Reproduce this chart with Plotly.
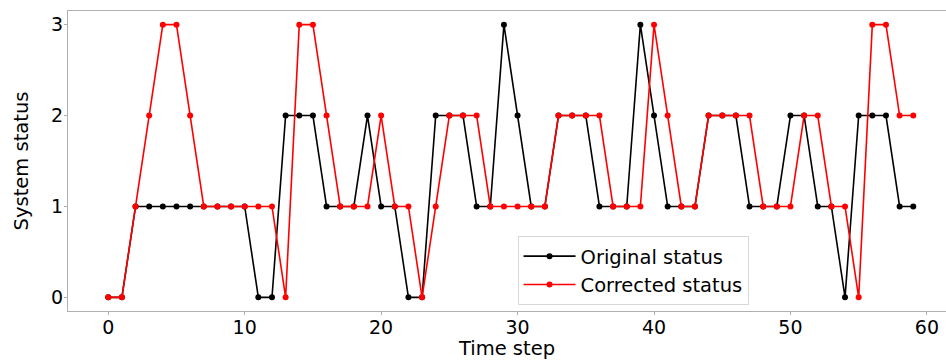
import plotly.graph_objects as go

# Time steps and the two status series
time_step = list(range(60))
original_status = [0, 0, 1, 1, 1, 1, 1, 1, 1, 1,
                   1, 0, 0, 2, 2, 2, 1, 1, 1, 2,
                   1, 1, 0, 0, 2, 2, 2, 1, 1, 3,
                   2, 1, 1, 2, 2, 2, 1, 1, 1, 3,
                   2, 1, 1, 1, 2, 2, 2, 1, 1, 1,
                   2, 2, 1, 1, 0, 2, 2, 2, 1, 1]
corrected_status = [0, 0, 1, 2, 3, 3, 2, 1, 1, 1,
                    1, 1, 1, 0, 3, 3, 2, 1, 1, 1,
                    2, 1, 1, 0, 1, 2, 2, 2, 1, 1,
                    1, 1, 1, 2, 2, 2, 2, 1, 1, 1,
                    3, 2, 1, 1, 2, 2, 2, 2, 1, 1,
                    1, 2, 2, 1, 1, 0, 3, 3, 2, 2]

x_ticks = [0, 10, 20, 30, 40, 50, 60]
y_ticks = [0, 1, 2, 3]

FONT = "DejaVu Sans"
SPINE = "#b0b0b0"
FS = 19.5

fig = go.Figure()
fig.add_trace(go.Scatter(
    x=time_step, y=original_status, mode="lines+markers", name="Original status",
    line=dict(color="black", width=1.6), marker=dict(color="black", size=6),
))
fig.add_trace(go.Scatter(
    x=time_step, y=corrected_status, mode="lines+markers", name="Corrected status",
    line=dict(color="red", width=1.6), marker=dict(color="red", size=6),
))

fig.update_layout(
    width=946, height=360,
    margin=dict(l=68, r=0, t=11, b=49),
    plot_bgcolor="white", paper_bgcolor="white",
    font=dict(family=FONT, size=FS, color="black"),
    showlegend=True,
    legend=dict(
        x=0.512, y=0.25, xanchor="left", yanchor="top",
        bgcolor="rgba(255,255,255,0.8)", bordercolor="#d8d8d8", borderwidth=1,
        font=dict(family=FONT, size=FS), itemwidth=52, tracegroupgap=0,
    ),
    xaxis=dict(
        range=[-2.95, 61.4], tickvals=x_ticks, ticktext=[str(v) for v in x_ticks],
        showgrid=False, zeroline=False, showline=True, linecolor=SPINE, linewidth=1.2,
        mirror=True, ticks="outside", ticklen=3, tickcolor=SPINE,
        ticklabelstandoff=-4, tickfont=dict(size=19),
        title=dict(text="Time step", font=dict(size=FS), standoff=8),
    ),
    yaxis=dict(
        range=[-0.15, 3.15], tickvals=y_ticks, ticktext=[str(v) for v in y_ticks],
        showgrid=False, zeroline=False, showline=True, linecolor=SPINE, linewidth=1.2,
        ticks="outside", ticklen=3, tickcolor=SPINE,
        ticklabelstandoff=-3, tickfont=dict(size=19),
        title=dict(text="System status", font=dict(size=FS), standoff=17),
    ),
)

fig.write_html("out.html")
